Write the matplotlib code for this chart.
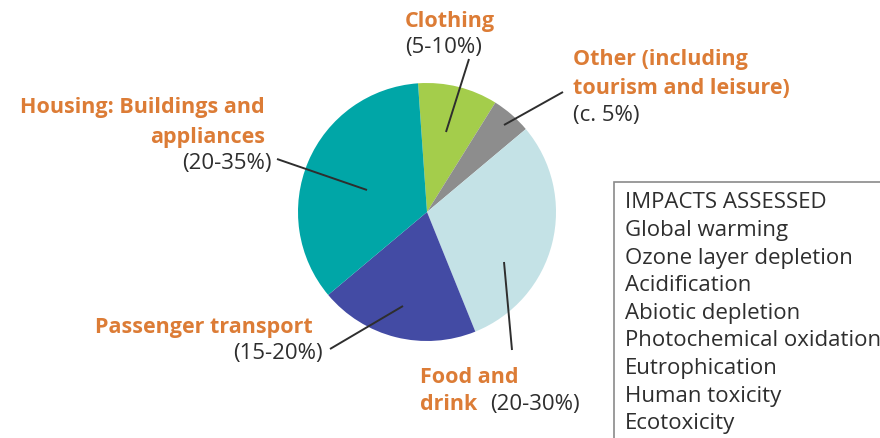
import matplotlib
matplotlib.use("Agg")
import matplotlib.pyplot as plt
from matplotlib.patches import Rectangle

# data
categories = ["Clothing", "Other (including tourism and leisure)", "Food and drink",
              "Passenger transport", "Housing: Buildings and appliances"]
shares = [10, 5, 30, 20, 35]
ranges = ["(5-10%)", "(c. 5%)", "(20-30%)", "(15-20%)", "(20-35%)"]
colors = ["#a4cd4b", "#8d8d8d", "#c4e2e6", "#434ba4", "#00a6a7"]
impacts = ["IMPACTS ASSESSED", "Global warming", "Ozone layer depletion", "Acidification",
           "Abiotic depletion", "Photochemical oxidation", "Eutrophication",
           "Human toxicity", "Ecotoxicity"]

W, H = 880, 439
ORANGE = "#dc7c36"
DARK = "#2e2e2e"
plt.rcParams['font.family'] = ['Open Sans', 'DejaVu Sans']

fig = plt.figure(figsize=(W / 100, H / 100), dpi=100)
ax = fig.add_axes([0, 0, 1, 1])


def Y(y):
    # pixel row (from top) -> data y
    return H - y


cx, cy, r = 427, 213, 129
ax.pie(shares, colors=colors, startangle=94, counterclock=False,
       center=(cx, Y(cy)), radius=r, wedgeprops=dict(linewidth=0))
ax.set_xlim(0, W)
ax.set_ylim(0, H)
ax.set_aspect('equal')
ax.axis('off')

# leader lines (outer end, inner end) in pixels
leaders = [((469, 60), (446, 133)),
           ((563, 93), (504, 126)),
           ((512, 351), (504, 263)),
           ((330, 350), (403, 307)),
           ((277, 160), (367, 191))]
for (x0, y0), (x1, y1) in leaders:
    ax.plot([x0, x1], [Y(y0), Y(y1)], color=DARK, lw=1.4, solid_capstyle='butt')

bold = dict(color=ORANGE, fontsize=15.5, fontweight='bold', va='center')
norm = dict(color=DARK, fontsize=16, va='center')

# Clothing
ax.text(405, Y(21), categories[0], ha='left', **bold)
ax.text(405, Y(47), ranges[0], ha='left', **norm)
# Other
ax.text(573, Y(60), "Other (including", ha='left', **bold)
ax.text(573, Y(88), "tourism and leisure)", ha='left', **bold)
ax.text(573, Y(115), ranges[1], ha='left', **norm)
# Housing
ax.text(265, Y(108), "Housing: Buildings and", ha='right', **bold)
ax.text(265, Y(137), "appliances", ha='right', **bold)
ax.text(272, Y(163), ranges[4], ha='right', **norm)
# Transport
ax.text(313, Y(327), categories[3], ha='right', **bold)
ax.text(323, Y(354), ranges[3], ha='right', **norm)
# Food
ax.text(420, Y(378), "Food and", ha='left', **bold)
ax.text(420, Y(405), "drink", ha='left', **bold)
ax.text(490, Y(405), ranges[2], ha='left', **norm)

# impacts box
ax.add_patch(Rectangle((614, Y(445)), 300, 445 - 183, fill=False,
                       edgecolor='#8a8a8a', lw=1.2))
for i, line in enumerate(impacts):
    ax.text(625, Y(203 + i * 27.6), line, ha='left', color=DARK, fontsize=16, va='center')

fig.savefig("out.png", dpi=100)
